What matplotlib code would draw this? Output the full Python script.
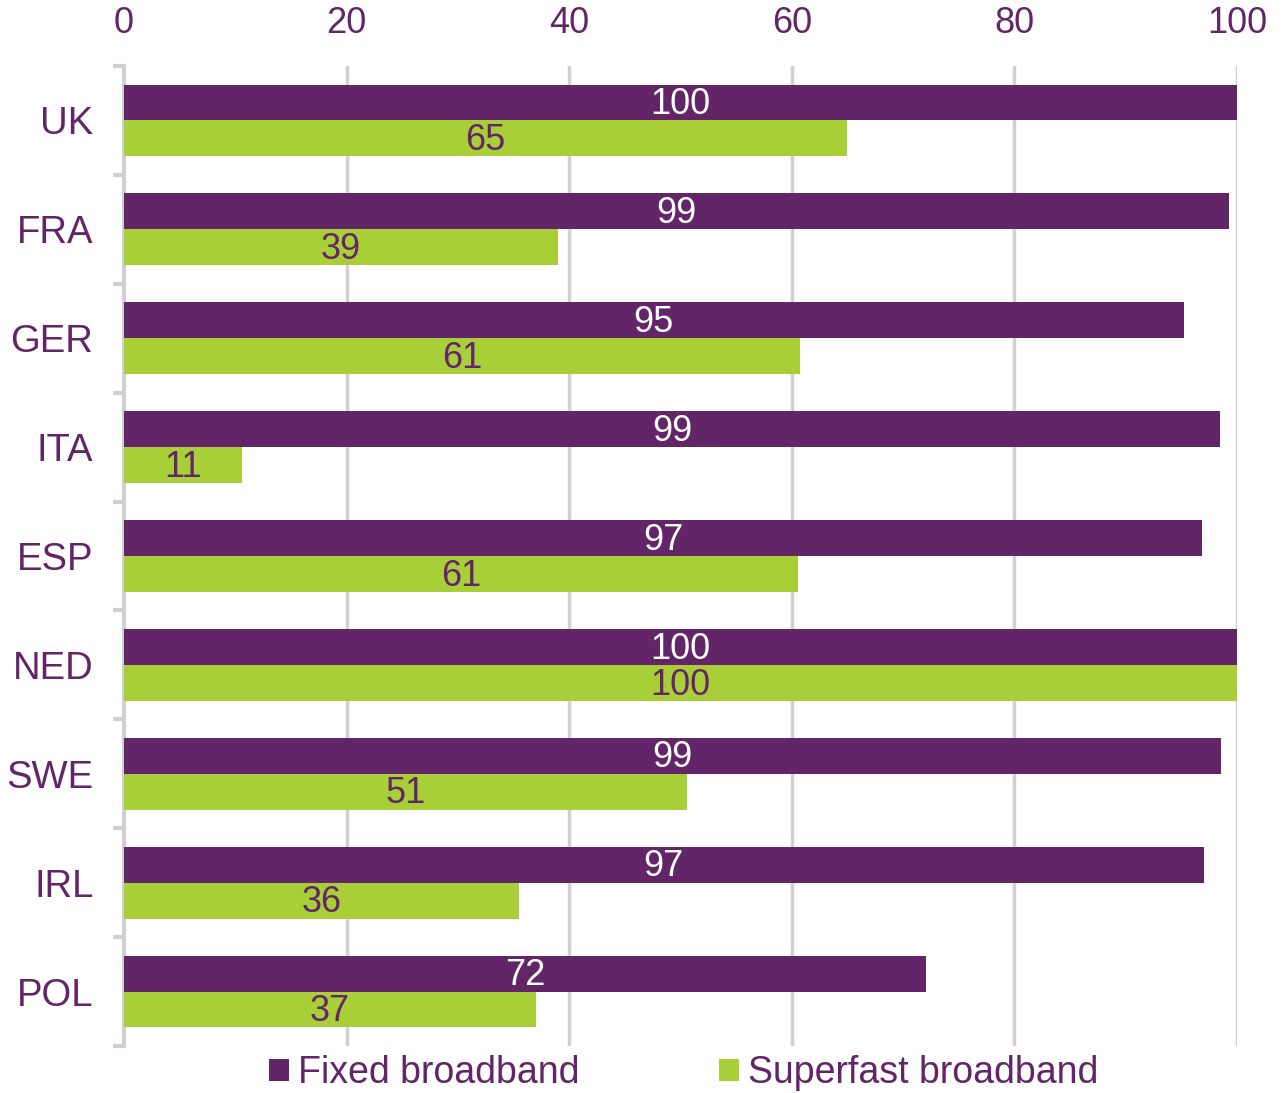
import matplotlib
matplotlib.use("Agg")
import matplotlib.pyplot as plt
from matplotlib.patches import Patch
import numpy as np

plt.rcParams['font.family'] = ['Liberation Sans', 'DejaVu Sans']

categories = ["UK", "FRA", "GER", "ITA", "ESP", "NED", "SWE", "IRL", "POL"]
fixed = [100, 99.3, 95.2, 98.5, 96.9, 100, 98.6, 97.0, 72.1]
superfast = [65, 39, 60.7, 10.6, 60.6, 100, 50.6, 35.5, 37.0]
fixed_labels = ["100", "99", "95", "99", "97", "100", "99", "97", "72"]
superfast_labels = ["65", "39", "61", "11", "61", "100", "51", "36", "37"]
xticks = [0, 20, 40, 60, 80, 100]

PURPLE = "#622567"
GREEN = "#A8CF38"
GRID = "#D0D0D0"

fig = plt.figure(figsize=(12.83, 10.93), dpi=100)
ax = fig.add_axes([124/1283, 1 - 1046/1093, (1237-124)/1283, (1046-66)/1093])

n = len(categories)
y = np.arange(n)
h = 0.33
ax.barh(y - h/2, fixed, height=h, color=PURPLE, zorder=3)
ax.barh(y + h/2, superfast, height=h, color=GREEN, zorder=3)

for i in range(n):
    ax.text(fixed[i]/2, y[i] - h/2 + 0.02, fixed_labels[i], color="white", fontsize=26,
            ha="center", va="center", zorder=4)
    ax.text(superfast[i]/2, y[i] + h/2 + 0.02, superfast_labels[i], color=PURPLE, fontsize=26,
            ha="center", va="center", zorder=4)

ax.set_xlim(0, 100)
ax.set_ylim(n - 0.5, -0.5)
ax.xaxis.tick_top()
ax.set_xticks(xticks)
ax.set_xticklabels([str(t) for t in xticks])
ax.tick_params(axis="x", length=0, pad=18, labelsize=26, labelcolor=PURPLE)

ax.set_yticks(y)
ax.set_yticklabels(categories)
ax.tick_params(axis="y", which="major", length=0, pad=22, labelsize=27.5, labelcolor=PURPLE)
ax.set_yticks(np.arange(-0.5, n, 1.0), minor=True)
ax.tick_params(axis="y", which="minor", length=8, width=3, color=GRID, direction="out")

for s in ["top", "right", "bottom"]:
    ax.spines[s].set_visible(False)
ax.spines["left"].set_color(GRID)
ax.spines["left"].set_linewidth(3)

for t in xticks[1:]:
    ax.axvline(t, color=GRID, linewidth=2.5, zorder=1)

handles = [Patch(facecolor=PURPLE, edgecolor="none", label="Fixed broadband"),
           Patch(facecolor=GREEN, edgecolor="none", label="Superfast broadband")]
leg = fig.legend(handles=handles, loc="center", bbox_to_anchor=(0.533, 1 - 1073/1093),
                 ncol=2, frameon=False, fontsize=27, handlelength=0.53, handleheight=0.53,
                 handletextpad=0.25, columnspacing=3.72, borderpad=0)
for t in leg.get_texts():
    t.set_color(PURPLE)

fig.savefig("out.png", dpi=100)
